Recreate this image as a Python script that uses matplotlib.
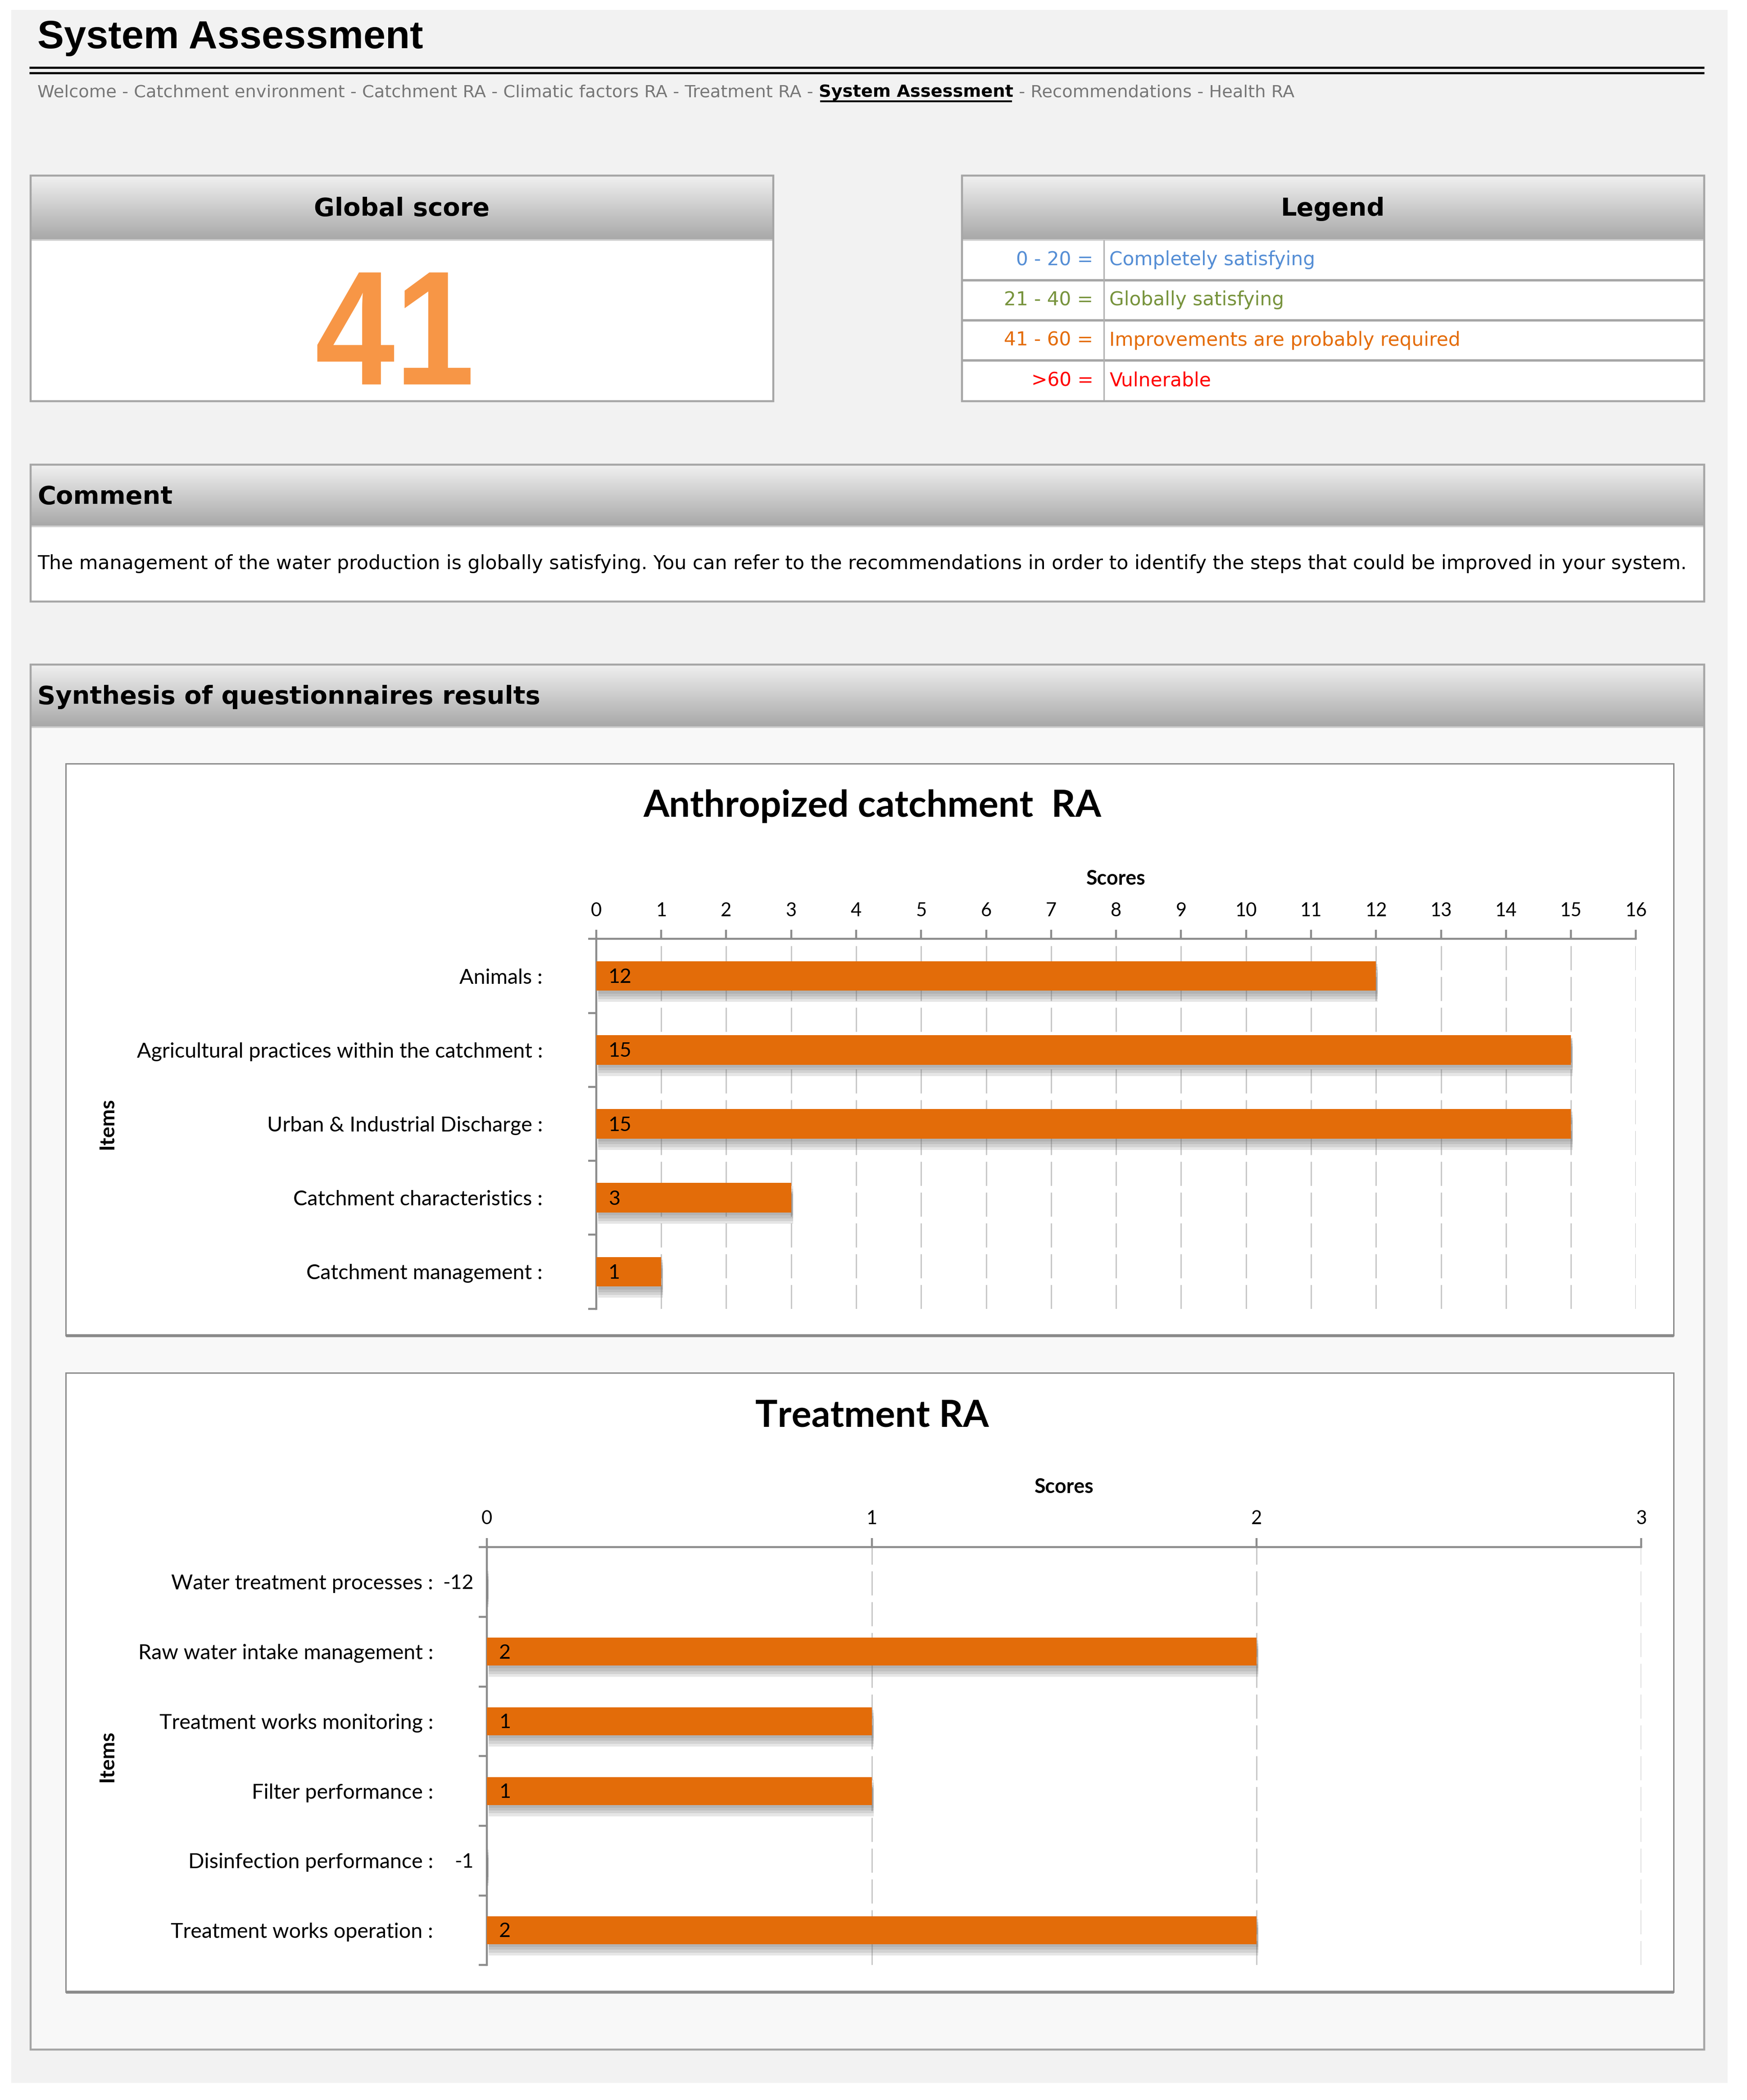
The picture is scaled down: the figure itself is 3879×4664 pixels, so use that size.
import numpy as np
import matplotlib.pyplot as plt
import matplotlib.colors as mcolors
import matplotlib.patheffects as pe
import matplotlib.transforms as mtrans
from matplotlib.patches import Rectangle, PathPatch
from matplotlib.textpath import TextPath
from matplotlib.font_manager import FontProperties

# the page is laid out in screenshot pixels (about 1304 x 1568), y going down
W, H = 3879 / 2.975, 4664 / 2.975
PX = 72 / 300 * 2.975          # points per screenshot pixel

page_title = 'System Assessment'
crumbs = ['Welcome - Catchment environment - Catchment RA - Climatic factors RA - Treatment RA - ',
          'System Assessment',
          ' - Recommendations - Health RA']

global_score = 41

legend_ranges = ['0 - 20 =', '21 - 40 =', '41 - 60 =', '>60 =']
legend_labels = ['Completely satisfying', 'Globally satisfying',
                 'Improvements are probably required', 'Vulnerable']
legend_colors = ['#558ed5', '#77933c', '#e46c0a', '#ff0000']

comment = ('The management of the water production is globally satisfying. You can refer to the '
           'recommendations in order to identify the steps that could be improved in your system.')

catch_title = 'Anthropized catchment  RA'
catch_items = ['Animals :', 'Agricultural practices within the catchment :',
               'Urban & Industrial Discharge :', 'Catchment characteristics :',
               'Catchment management :']
catch_scores = [12, 15, 15, 3, 1]
catch_max = 16

treat_title = 'Treatment RA'
treat_items = ['Water treatment processes :', 'Raw water intake management :',
               'Treatment works monitoring :', 'Filter performance :',
               'Disinfection performance :', 'Treatment works operation :']
treat_scores = [-12, 2, 1, 1, -1, 2]
treat_max = 3

PAGE_FONT = 'DejaVu Sans'
plt.rcParams['font.family'] = 'Lato'
plt.rcParams['lines.scale_dashes'] = False

fig = plt.figure(figsize=(3879 / 300, 4664 / 300), dpi=300)
fig.patch.set_facecolor('white')
bg = fig.add_axes([0, 0, 1, 1])
bg.axis('off')


def box(x0, y0, x1, y1, fc, ec='none', lw=0, z=1):
    bg.add_patch(Rectangle((x0, y0), x1 - x0, y1 - y0, facecolor=fc,
                           edgecolor=ec, linewidth=lw * PX, zorder=z))


def line(xs, ys, c, lw, z=3):
    bg.plot(xs, ys, color=c, lw=lw * PX, solid_capstyle='butt', zorder=z)


def txt(x, y, s, size, **kw):
    kw.setdefault('family', PAGE_FONT)
    kw.setdefault('zorder', 6)
    return bg.text(x, y, s, fontsize=size * PX, **kw)


def gradient(x0, y0, x1, y1, top='#f0f0f0', bottom='#a8a8a8'):
    t = np.linspace(0, 1, 64)[:, None, None]
    img = np.array(mcolors.to_rgb(top)) * (1 - t) + np.array(mcolors.to_rgb(bottom)) * t
    bg.imshow(img, extent=(x0, x1, y1, y0), aspect='auto',
              interpolation='bilinear', zorder=2)


def panel(x0, y0, x1, y1, head, title, ha='center', body='white'):
    box(x0, y0, x1, y1, body)
    gradient(x0, y0, x1, head)
    line([x0, x1], [head, head], '#cfcfcf', 1.2)
    box(x0, y0, x1, y1, 'none', '#a6a6a6', 1.5, z=4)
    tx = (x0 + x1) / 2 if ha == 'center' else x0 + 5
    txt(tx, (y0 + head) / 2 + 1, title, 18.8, weight='bold', ha=ha, va='center')


def condensed(s, xc, baseline, size, squeeze, color):
    # big score digits: a narrowed text path, y flipped for the page axes
    tp = TextPath((0, 0), s, size=1, prop=FontProperties(family='Liberation Sans', weight='bold'))
    ext = tp.get_extents()
    sx = size * squeeze
    tr = mtrans.Affine2D().scale(sx, -size).translate(xc - (ext.x0 + ext.width / 2) * sx, baseline)
    bg.add_patch(PathPatch(tr.transform_path(tp), facecolor=color, edgecolor='none', zorder=6))


# page background, title and breadcrumb
box(8.4, 7.4, 1289.4, 1555, '#f2f2f2', z=0)
txt(28, 36, page_title, 29.7, family='Liberation Sans', weight='bold', va='baseline')
line([22, 1272], [50.5, 50.5], 'black', 1.6)
line([22, 1272], [54.5, 54.5], 'black', 1.6)

t1 = txt(28, 69, crumbs[0], 12.9, color='#777777', va='center')
t2 = bg.annotate(crumbs[1], xy=(1, 0), xycoords=t1, va='bottom', ha='left',
                 fontsize=12.9 * PX, family=PAGE_FONT, weight='bold', color='black', zorder=6)
t3 = bg.annotate(crumbs[2], xy=(1, 0), xycoords=t2, va='bottom', ha='left',
                 fontsize=12.9 * PX, family=PAGE_FONT, color='#777777', zorder=6)

# global score
panel(23, 131, 577, 299.5, 179, 'Global score')
condensed(str(global_score), 294, 287, 121.5, 0.88, '#f79646')

# legend
panel(718, 131, 1272, 299.5, 179, 'Legend')
row_edges = [179, 209, 239, 269, 299.5]
for y in row_edges[1:-1]:
    line([718, 1272], [y, y], '#a6a6a6', 1.8)
line([824, 824], [179, 299.5], '#b0b0b0', 1)
for i in range(len(legend_ranges)):
    yc = (row_edges[i] + row_edges[i + 1]) / 2
    txt(816, yc, legend_ranges[i], 14.2, color=legend_colors[i], ha='right', va='center')
    txt(828, yc, legend_labels[i], 14.2, color=legend_colors[i], ha='left', va='center')

# comment
panel(23, 347, 1272, 449, 393, 'Comment', ha='left')
txt(28, 421, comment, 14.35, va='center')

# synthesis
panel(23, 496, 1272, 1530, 543, 'Synthesis of questionnaires results', ha='left', body='#f8f8f8')


def chart_box(x0, y0, x1, y1, title, ty):
    box(x0, y0, x1, y1, 'white', '#8a8a8a', 1, z=1)
    line([x0, x1], [y1, y1], '#8a8a8a', 2.2, z=2)
    txt((x0 + x1) / 2 + 2, ty, title, 27.8, family='Lato', weight='bold', ha='center', va='center')


def bar_chart(area, items, scores, xmax):
    x0, y0, x1, y1 = area
    ax = fig.add_axes([x0 / W, 1 - y1 / H, (x1 - x0) / W, (y1 - y0) / H])
    ax.patch.set_alpha(0)
    pos = np.arange(len(items))
    bars = ax.barh(pos, scores, height=0.4, color='#e36c09', zorder=3)
    shadow = [pe.SimplePatchShadow(offset=(1.0, -1.5 * k), shadow_rgbFace='#707070', alpha=0.17)
              for k in (1, 2, 3, 4)] + [pe.Normal()]
    for b in bars:
        b.set_path_effects(shadow)
    for i, v in enumerate(scores):
        if v >= 0:
            ax.annotate(str(v), (0, i), xytext=(9 * PX, -1 * PX), textcoords='offset points',
                        ha='left', va='center', fontsize=15 * PX, annotation_clip=False, zorder=5)
        else:
            ax.annotate(str(v), (0, i), xytext=(-10 * PX, -1 * PX), textcoords='offset points',
                        ha='right', va='center', fontsize=15 * PX, annotation_clip=False)

    ax.set_xlim(0, xmax)
    ax.set_ylim(len(items) - 0.5, -0.5)
    ax.xaxis.tick_top()
    ax.xaxis.set_label_position('top')
    ax.set_xticks(range(xmax + 1))
    ax.set_yticks(pos, items)
    ax.set_yticks(np.arange(len(items) + 1) - 0.5, minor=True)
    ax.tick_params(axis='x', length=6.7 * PX, width=1.5 * PX, color='#8c8c8c',
                   pad=8 * PX, labelsize=14 * PX)
    ax.tick_params(axis='y', which='major', length=0, pad=40 * PX, labelsize=15.7 * PX)
    ax.tick_params(axis='y', which='minor', length=6 * PX, width=1.5 * PX, color='#8c8c8c')
    for s in ('right', 'bottom'):
        ax.spines[s].set_visible(False)
    for s in ('top', 'left'):
        ax.spines[s].set_color('#8c8c8c')
        ax.spines[s].set_linewidth(1.5 * PX)
    ax.grid(axis='x', color='#c8c8c8', lw=1.0 * PX, ls=(0, (18 * PX, 5 * PX)))
    ax.set_axisbelow(True)
    ax.set_xlabel('Scores', fontsize=15 * PX, weight='bold', labelpad=13 * PX)
    ax.set_ylabel('Items', fontsize=15.5 * PX, weight='bold')
    ax.yaxis.set_label_coords((87 - x0) / (x1 - x0), 0.5)
    return ax


chart_box(49, 570, 1249, 997, catch_title, 602)
bar_chart((445, 701, 1221, 977), catch_items, catch_scores, catch_max)

chart_box(49, 1025, 1249, 1487, treat_title, 1057)
bar_chart((363.4, 1155, 1225, 1467), treat_items, treat_scores, treat_max)

bg.set_xlim(0, W)
bg.set_ylim(H, 0)

# underline the current page in the breadcrumb
fig.canvas.draw()
bb = t2.get_window_extent()
(ua, _), (ub, _) = bg.transData.inverted().transform([[bb.x0, bb.y0], [bb.x1, bb.y1]])
line([ua + 1, ub - 1], [75.5, 75.5], 'black', 1.4, z=6)

fig.savefig('out.png', dpi=300)
